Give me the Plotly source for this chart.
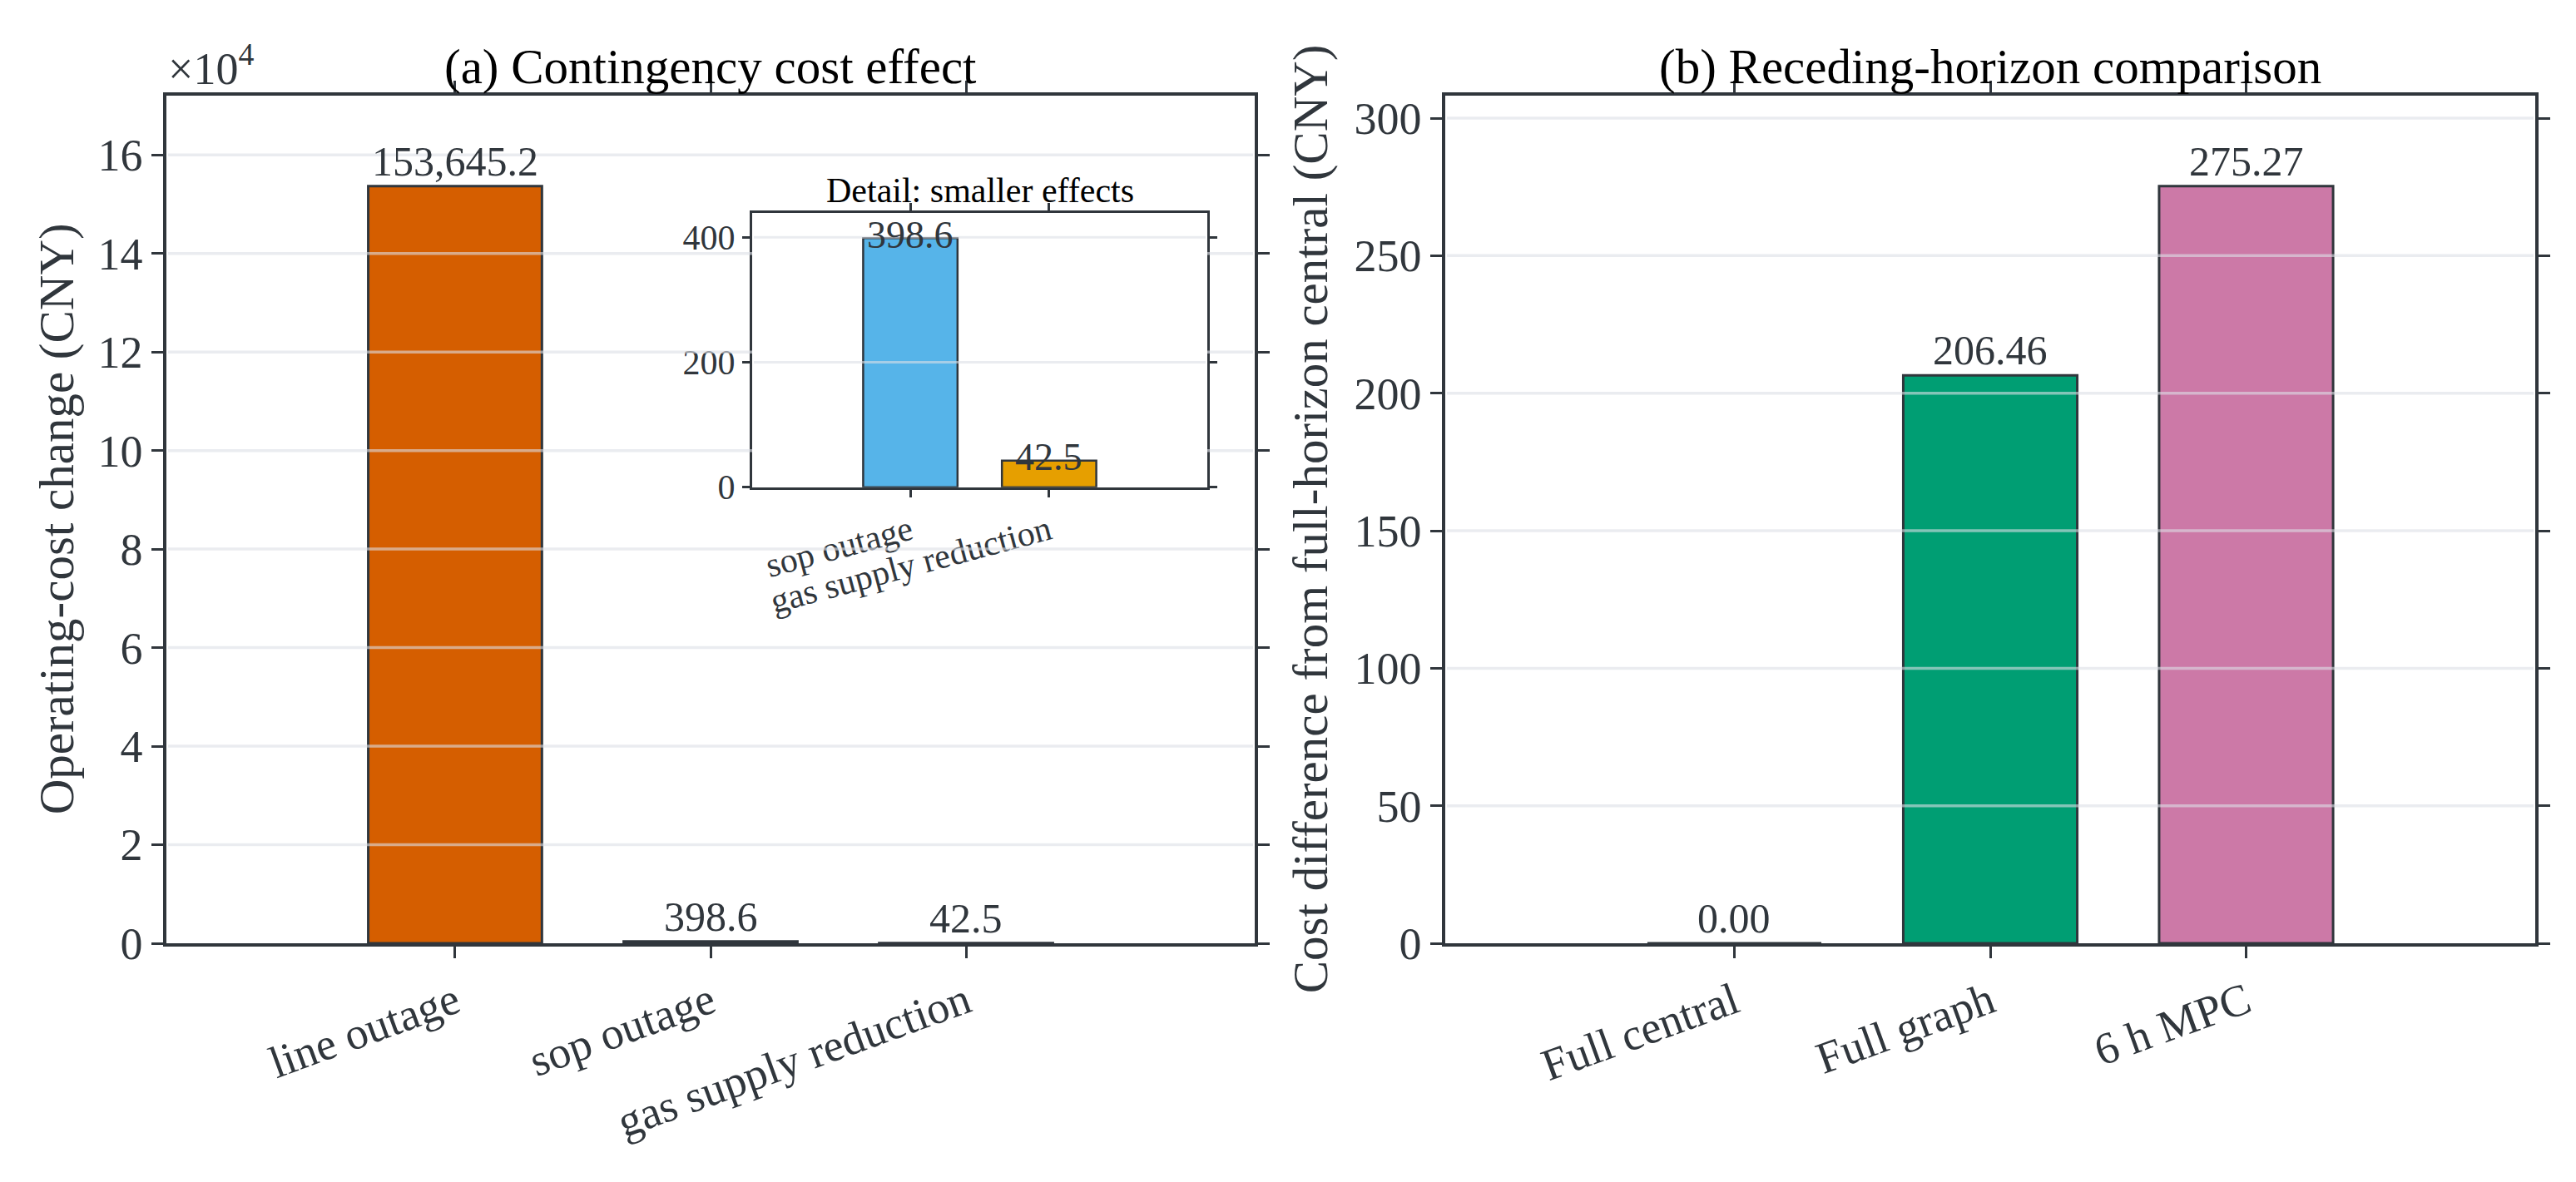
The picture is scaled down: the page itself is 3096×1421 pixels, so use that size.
import plotly.graph_objects as go

# (a) contingency cost effect
cont_labels = ["line outage", "sop outage", "gas supply reduction"]
cont_values = [153645.2, 398.6, 42.5]
cont_colors = ["#D55E00", "#56B4E9", "#E69F00"]
main_ticks = [0, 2, 4, 6, 8, 10, 12, 14, 16]  # x 10^4

# inset: only the smaller effects
inset_labels = cont_labels[1:]
inset_values = cont_values[1:]
inset_colors = cont_colors[1:]
inset_ticks = [0, 200, 400]

# (b) receding-horizon comparison
rh_labels = ["Full central", "Full graph", "6 h MPC"]
rh_values = [0.00, 206.46, 275.27]
rh_colors = ["#0072B2", "#009E73", "#CC79A7"]
rh_ticks = [0, 50, 100, 150, 200, 250, 300]

FONT = "Liberation Serif"
INK = "#30363c"
GRID = "rgba(220,224,230,0.6)"
W, H = 3096, 1421

# subplot boxes in paper units
dom_a_x = [192 / W, 1500 / W]
dom_b_x = [1729 / W, 3039 / W]
dom_y = [1 - 1151 / H, 1 - 108 / H]
dom_in_x = [896 / W, 1443 / W]
dom_in_y = [1 - 590 / H, 1 - 253 / H]

ymax_a = max(cont_values) * 1.12
ymax_b = max(rh_values) * 1.12
ymax_in = max(inset_values) * 1.1

fig = go.Figure()
fig.add_trace(go.Bar(x=cont_labels, y=cont_values, width=0.68,
                     marker=dict(color=cont_colors, line=dict(color=INK, width=3)),
                     xaxis="x", yaxis="y", showlegend=False, hoverinfo="skip"))
fig.add_trace(go.Bar(x=rh_labels, y=rh_values, width=0.68,
                     marker=dict(color=rh_colors, line=dict(color=INK, width=3)),
                     xaxis="x2", yaxis="y2", showlegend=False, hoverinfo="skip"))
fig.add_trace(go.Bar(x=inset_labels, y=inset_values, width=0.68,
                     marker=dict(color=inset_colors, line=dict(color=INK, width=2.5)),
                     xaxis="x3", yaxis="y3", showlegend=False, hoverinfo="skip"))

axis_style = dict(showline=True, linecolor=INK, linewidth=3.5, mirror="ticks",
                  ticks="outside", ticklen=14, tickwidth=3, tickcolor=INK,
                  showgrid=False, zeroline=False, fixedrange=True,
                  tickfont=dict(family=FONT, size=54, color=INK))
inset_style = dict(axis_style, linewidth=3, ticklen=9, tickwidth=2.5,
                   tickfont=dict(family=FONT, size=42, color=INK))

fig.update_layout(
    width=W, height=H, margin=dict(l=0, r=0, t=0, b=0), autosize=False,
    paper_bgcolor="white", plot_bgcolor="white", hovermode=False,
    font=dict(family=FONT, color=INK),
    xaxis=dict(axis_style, domain=dom_a_x, anchor="y", range=[-1.13, 3.13], tickangle=-20),
    yaxis=dict(axis_style, domain=dom_y, anchor="x", range=[0, ymax_a],
               tickvals=[t * 1e4 for t in main_ticks], ticktext=[str(t) for t in main_ticks]),
    xaxis2=dict(axis_style, domain=dom_b_x, anchor="y2", range=[-1.13, 3.13], tickangle=-20),
    yaxis2=dict(axis_style, domain=dom_y, anchor="x2", range=[0, ymax_b], tickvals=rh_ticks),
    xaxis3=dict(inset_style, domain=dom_in_x, anchor="y3", range=[-1.14, 2.14], tickangle=-15),
    yaxis3=dict(inset_style, domain=dom_in_y, anchor="x3", range=[0, ymax_in], tickvals=inset_ticks),
)


# gridlines drawn above the bars (semi-transparent), cut where the inset sits
def ypaper(v, ymax, dom):
    return dom[0] + v / ymax * (dom[1] - dom[0])


pad = 2 / W
shapes = []
for t in main_ticks[1:]:
    v = t * 1e4
    yp = ypaper(v, ymax_a, dom_y)
    if dom_in_y[0] <= yp <= dom_in_y[1]:
        segs = [(dom_a_x[0] + pad, dom_in_x[0]), (dom_in_x[1], dom_a_x[1] - pad)]
    else:
        segs = [(dom_a_x[0] + pad, dom_a_x[1] - pad)]
    for x0, x1 in segs:
        shapes.append(dict(type="line", xref="paper", yref="y", x0=x0, x1=x1, y0=v, y1=v,
                           line=dict(color=GRID, width=3.5), layer="above"))
for v in rh_ticks[1:]:
    shapes.append(dict(type="line", xref="paper", yref="y2", x0=dom_b_x[0] + pad, x1=dom_b_x[1] - pad,
                       y0=v, y1=v, line=dict(color=GRID, width=3.5), layer="above"))
for v in inset_ticks[1:]:
    shapes.append(dict(type="line", xref="paper", yref="y3", x0=dom_in_x[0] + pad, x1=dom_in_x[1] - pad,
                       y0=v, y1=v, line=dict(color=GRID, width=3), layer="above"))
fig.update_layout(shapes=shapes)

ann = []
# bar value labels
for lab, val in zip(cont_labels, cont_values):
    ann.append(dict(x=lab, y=val, xref="x", yref="y", text=f"{val:,.1f}", showarrow=False,
                    yanchor="bottom", font=dict(size=50, color=INK)))
for lab, val in zip(rh_labels, rh_values):
    ann.append(dict(x=lab, y=val, xref="x2", yref="y2", text=f"{val:.2f}", showarrow=False,
                    yanchor="bottom", font=dict(size=50, color=INK)))
for lab, val in zip(inset_labels, inset_values):
    ann.append(dict(x=lab, y=val, xref="x3", yref="y3", text=f"{val:,.1f}", showarrow=False,
                    yanchor="middle", yshift=4, font=dict(size=46, color=INK)))

# titles
ann.append(dict(x=0.5, y=1, xref="x domain", yref="y domain", text="(a) Contingency cost effect",
                showarrow=False, yanchor="bottom", font=dict(size=59, color="black")))
ann.append(dict(x=0.5, y=1, xref="x2 domain", yref="y2 domain", text="(b) Receding-horizon comparison",
                showarrow=False, yanchor="bottom", font=dict(size=59, color="black")))
ann.append(dict(x=0.5, y=1, xref="x3 domain", yref="y3 domain", text="Detail: smaller effects",
                showarrow=False, yanchor="bottom", yshift=2, font=dict(size=42, color="black")))
# offset text of the main y axis
ann.append(dict(x=0, y=1, xref="x domain", yref="y domain", text="×10<sup>4</sup>",
                showarrow=False, xanchor="left", yanchor="bottom", font=dict(size=54, color=INK)))
# y axis titles
ann.append(dict(x=60 / W, y=0.5, xref="paper", yref="y domain", text="Operating-cost change (CNY)",
                textangle=-90, showarrow=False, xanchor="center", yanchor="middle",
                font=dict(size=59, color=INK)))
ann.append(dict(x=1567 / W, y=0.5, xref="paper", yref="y2 domain",
                text="Cost difference from full-horizon central (CNY)",
                textangle=-90, showarrow=False, xanchor="center", yanchor="middle",
                font=dict(size=59, color=INK)))
fig.update_layout(annotations=ann)

fig.write_html("out.html")
